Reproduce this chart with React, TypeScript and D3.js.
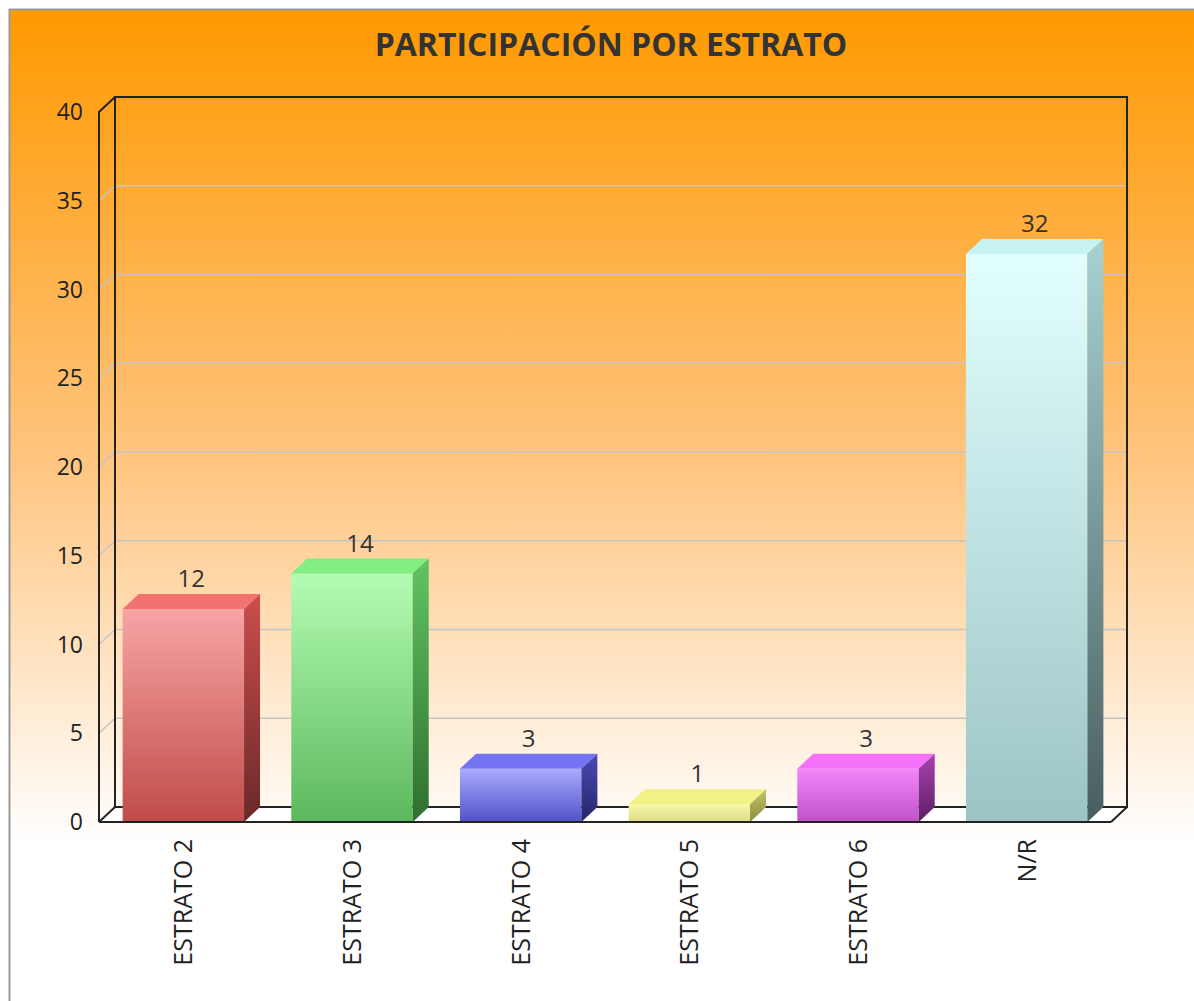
import React from "react";
import * as d3 from "d3";

const categories = ["ESTRATO 2", "ESTRATO 3", "ESTRATO 4", "ESTRATO 5", "ESTRATO 6", "N/R"];
const values = [12, 14, 3, 1, 3, 32];
const yTicks = [0, 5, 10, 15, 20, 25, 30, 35, 40];

// front gradient top/bottom, top face, side top/bottom
const palette = [
  { ft: "#f7a5a5", fb: "#c04c49", top: "#f27272", st: "#cc4e4e", sb: "#6a2828" },
  { ft: "#b4fcb4", fb: "#5cb85c", top: "#80ee80", st: "#62c462", sb: "#2f6e2f" },
  { ft: "#aaaaff", fb: "#5252c8", top: "#7474f4", st: "#4a4ab4", sb: "#26266a" },
  { ft: "#f8f8aa", fb: "#dcdc84", top: "#f2f284", st: "#c4c468", sb: "#8a8a40" },
  { ft: "#f486fa", fb: "#c052c8", top: "#f472fa", st: "#a842b0", sb: "#5e1e66" },
  { ft: "#e2ffff", fb: "#9cc4c4", top: "#c8f2f2", st: "#a8d2d2", sb: "#485e5e" },
];

const font = "'Open Sans', sans-serif";

export default function App() {
  const left = 99, right = 1111, bottom = 822, topY = 112;
  const dx = 16, dy = 15;

  const x = d3.scaleBand<string>().domain(categories).range([left, right]).paddingInner(0.28).paddingOuter(0.14);
  const y = d3.scaleLinear().domain([0, 40]).range([bottom, topY]);
  const bw = x.bandwidth();

  return (
    <div style={{ position: "absolute", left: 0, top: 0 }}>
      <svg width={1194} height={1001} style={{ display: "block" }}>
        <defs>
          <linearGradient id="bg" gradientUnits="userSpaceOnUse" x1="0" y1="10" x2="0" y2="1001">
            <stop offset="0" stopColor="#ff9900" />
            <stop offset="0.45" stopColor="#ffc47e" />
            <stop offset="0.84" stopColor="#ffffff" />
            <stop offset="1" stopColor="#ffffff" />
          </linearGradient>
          {palette.map((p, i) => (
            <React.Fragment key={i}>
              <linearGradient id={`f${i}`} x1="0" y1="0" x2="0" y2="1">
                <stop offset="0" stopColor={p.ft} />
                <stop offset="1" stopColor={p.fb} />
              </linearGradient>
              <linearGradient id={`s${i}`} x1="0" y1="0" x2="0" y2="1">
                <stop offset="0" stopColor={p.st} />
                <stop offset="1" stopColor={p.sb} />
              </linearGradient>
            </React.Fragment>
          ))}
        </defs>
        <rect x={0} y={0} width={1194} height={1001} fill="#fff" />
        <rect x={10} y={10} width={1190} height={1000} fill="url(#bg)" />
        <path d="M9.5 1001 V9.5 H1194" stroke="#999" strokeWidth={2} fill="none" />

        <text x={611} y={56} textAnchor="middle" fontFamily={font} fontWeight="bold" fontSize={32} fill="#333">
          PARTICIPACIÓN POR ESTRATO
        </text>

        {/* floor */}
        <path d={`M${left},${bottom} L${left + dx},${bottom - dy} L${right + dx},${bottom - dy} L${right},${bottom} Z`} fill="#fff" />

        {/* grid lines */}
        {yTicks.filter(t => t > 0 && t < 40).map(t => (
          <path
            key={t}
            d={`M${left},${y(t)} L${left + dx},${y(t) - dy} H${right + dx}`}
            stroke="#c4c4c4"
            strokeWidth={1.4}
            fill="none"
          />
        ))}

        {/* back wall & side frames */}
        <g stroke="#222" strokeWidth={2} fill="none">
          <path d={`M${left + dx},${bottom - dy} V${topY - dy} H${right + dx} V${bottom - dy} H${left + dx}`} />
          <path d={`M${left},${bottom} V${topY} L${left + dx},${topY - dy}`} />
          <path d={`M${left},${bottom} L${left + dx},${bottom - dy}`} />
          <path d={`M${right},${bottom} L${right + dx},${bottom - dy}`} />
        </g>

        {/* bars */}
        {values.map((v, i) => {
          const bx = x(categories[i])!;
          const yt = y(v);
          return (
            <g key={categories[i]}>
              <rect x={bx} y={yt} width={bw} height={bottom - yt} fill={`url(#f${i})`} />
              <path d={`M${bx},${yt} L${bx + dx},${yt - dy} L${bx + bw + dx},${yt - dy} L${bx + bw},${yt} Z`} fill={palette[i].top} />
              <path d={`M${bx + bw},${yt} L${bx + bw + dx},${yt - dy} L${bx + bw + dx},${bottom - dy} L${bx + bw},${bottom} Z`} fill={`url(#s${i})`} />
              <text x={bx + bw / 2 + dx / 2} y={yt - dy - 7} textAnchor="middle" fontFamily={font} fontSize={24} fill="#333">
                {v}
              </text>
            </g>
          );
        })}

        {/* front baseline */}
        <path d={`M${left},${bottom} H${right}`} stroke="#222" strokeWidth={2} />

        {/* y axis labels */}
        {yTicks.map(t => (
          <text key={t} x={83} y={y(t) + 8} textAnchor="end" fontFamily={font} fontSize={23} fill="#222">
            {t}
          </text>
        ))}

        {/* category labels */}
        {categories.map(c => (
          <text
            key={c}
            transform={`translate(${x(c)! + bw / 2 - 1},839) rotate(-90)`}
            textAnchor="end"
            dominantBaseline="central"
            fontFamily={font}
            fontSize={25}
            fill="#222"
          >
            {c}
          </text>
        ))}
      </svg>
    </div>
  );
}
